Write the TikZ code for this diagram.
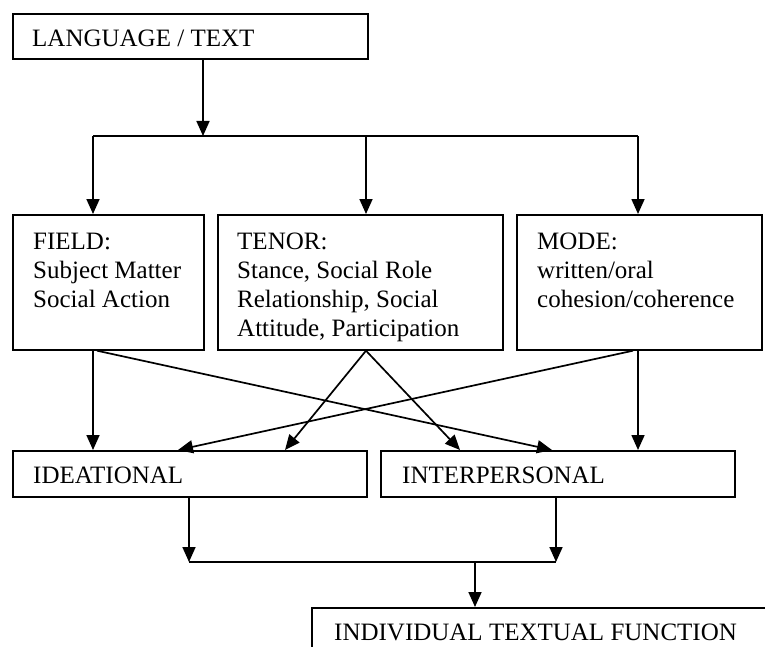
\documentclass[tikz,border=0pt]{standalone}
\usepackage{fontspec}
\setmainfont{Liberation Serif}
\usetikzlibrary{arrows.meta}
\begin{document}
\begin{tikzpicture}[x=1pt,y=-1pt,
  box/.style={draw, line width=1.7pt, rectangle, inner sep=0pt, anchor=north west},
  txt/.style={font=\fontsize{25}{29}\selectfont, inner sep=0pt, anchor=base west, align=left},
  conn/.style={line width=1.7pt},
  arr/.style={conn, -{Triangle[width=13pt,length=15pt]}}]
\useasboundingbox (0,0) rectangle (765,647);
\clip (0,0) rectangle (765,647);
% boxes
\node[box, minimum width=355pt, minimum height=45pt] (lang) at (12,13) {};
\node[box, minimum width=191pt, minimum height=135pt] (field) at (12,214) {};
\node[box, minimum width=285pt, minimum height=135pt] (tenor) at (217,214) {};
\node[box, minimum width=245pt, minimum height=135pt] (mode) at (516,214) {};
\node[box, minimum width=354pt, minimum height=46pt] (idea) at (12,450) {};
\node[box, minimum width=354pt, minimum height=46pt] (inter) at (380,450) {};
\node[box, minimum width=480pt, minimum height=70pt] (indiv) at (311,607) {};
% texts (base anchor = baseline of the last line)
\node[txt] (tlang) at (32,47) {LANGUAGE / TEXT};
\node[txt] (tfield) at (33,307) {FIELD:\\Subject Matter\\Social Action};
\node[txt] (ttenor) at (237,336) {TENOR:\\Stance, Social Role\\Relationship, Social\\Attitude, Participation};
\node[txt] (tmode) at (537,307) {MODE:\\written/oral\\cohesion/coherence};
\node[txt] (tidea) at (33,483) {IDEATIONAL};
\node[txt] (tinter) at (402,483) {INTERPERSONAL};
\node[txt] (tindiv) at (334,640) {INDIVIDUAL TEXTUAL FUNCTION};
% junctions
\coordinate (j1) at (203,136);
\coordinate (jl) at (93,136);
\coordinate (jm) at (366,136);
\coordinate (jr) at (638,136);
\coordinate (bl) at (189,562);
\coordinate (br) at (556,562);
\coordinate (bm) at (475,562);
% connectors
\draw[arr] (lang.south -| j1) -- (j1);
\draw[conn] (jl) -- (jr);
\draw[arr] (jl) -- (field.north -| jl);
\draw[arr] (jm) -- (tenor.north -| jm);
\draw[arr] (jr) -- (mode.north -| jr);
\draw[arr] ([xshift=81pt]field.south west) -- ([xshift=81pt]idea.north west);
\draw[arr] ([xshift=85pt]field.south west) -- ([xshift=172pt]inter.north west);
\draw[arr] ([xshift=149pt]tenor.south west) -- ([xshift=273pt]idea.north west);
\draw[arr] ([xshift=149pt]tenor.south west) -- ([xshift=80pt]inter.north west);
\draw[arr] ([xshift=117pt]mode.south west) -- ([xshift=166pt]idea.north west);
\draw[arr] ([xshift=122pt]mode.south west) -- ([xshift=258pt]inter.north west);
\draw[arr] ([xshift=177pt]idea.south west) -- (bl);
\draw[arr] ([xshift=176pt]inter.south west) -- (br);
\draw[conn] (bl) -- (br);
\draw[arr] (bm) -- ([xshift=164pt]indiv.north west);
\end{tikzpicture}
\end{document}
